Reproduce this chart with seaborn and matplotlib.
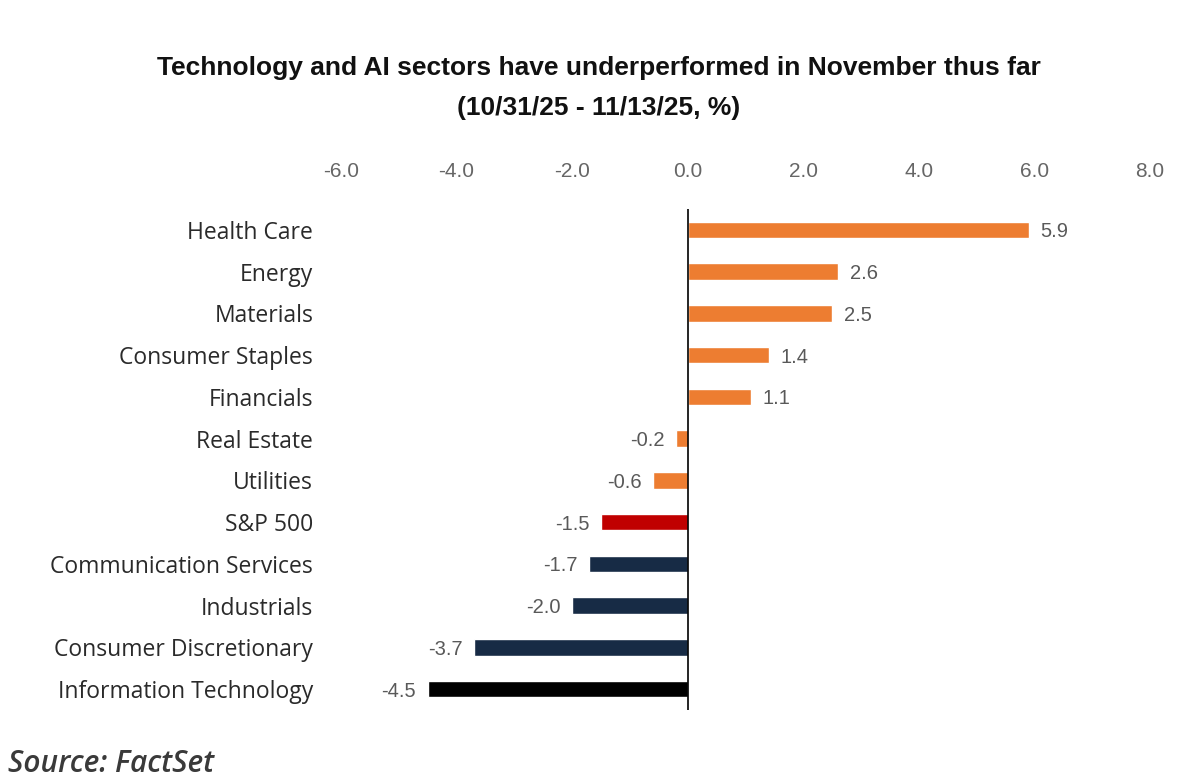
import matplotlib
matplotlib.use("Agg")
import matplotlib.pyplot as plt
import seaborn as sns
import pandas as pd

categories = ["Health Care", "Energy", "Materials", "Consumer Staples", "Financials",
              "Real Estate", "Utilities", "S&P 500", "Communication Services",
              "Industrials", "Consumer Discretionary", "Information Technology"]
values = [5.9, 2.6, 2.5, 1.4, 1.1, -0.2, -0.6, -1.5, -1.7, -2.0, -3.7, -4.5]
bar_colors = ["#ED7D31"] * 7 + ["#C00000"] + ["#172B45"] * 3 + ["#000000"]
tick_values = [-6, -4, -2, 0, 2, 4, 6, 8]
tick_labels = ["-6.0", "-4.0", "-2.0", "0.0", "2.0", "4.0", "6.0", "8.0"]
title_line1 = "Technology and AI sectors have underperformed in November thus far"
title_line2 = "(10/31/25 - 11/13/25, %)"
source = "Source: FactSet"

df = pd.DataFrame({"category": categories, "value": values})

sns.set_theme(style="white")
plt.rcParams['font.family'] = ['Liberation Sans', 'DejaVu Sans']

fig = plt.figure(figsize=(11.98, 7.82), dpi=100)
ax = fig.add_axes([341/1198, 1 - 710/782, (1150 - 341)/1198, (710 - 209)/782])

sns.barplot(data=df, x="value", y="category", hue="category",
            palette=dict(zip(categories, bar_colors)), orient="h",
            width=0.4, legend=False, ax=ax, saturation=1)

ax.set_xlim(-6, 8)
ax.set_xticks(tick_values)
ax.set_xticklabels(tick_labels)
ax.xaxis.tick_top()
ax.tick_params(axis="x", length=0, pad=20, labelsize=15, labelcolor="#666666")
ax.tick_params(axis="y", length=0, pad=20, labelsize=16.5, labelcolor="#2A2A2A")
for lab in ax.get_yticklabels():
    lab.set_family(['Open Sans', 'DejaVu Sans'])
ax.set_xlabel("")
ax.set_ylabel("")
for s in ax.spines.values():
    s.set_visible(False)
ax.axvline(0, color="#000000", lw=1.2, zorder=5)

for i, v in enumerate(values):
    off = 0.2 if v >= 0 else -0.2
    ax.text(v + off, i, f"{v:.1f}", va="center_baseline", ha="left" if v >= 0 else "right",
            fontsize=14.5, color="#595959")

fig.text(0.5, 1 - 68/782, title_line1, ha="center", va="center",
         fontsize=19, fontweight="bold", color="#111111")
fig.text(0.5, 1 - 108/782, title_line2, ha="center", va="center",
         fontsize=19, fontweight="bold", color="#111111")
fig.text(8/1198, 1 - 764/782, source, ha="left", va="center", fontsize=21.5,
         style="italic", fontweight="semibold", color="#3A3A3A",
         family=['Open Sans', 'DejaVu Sans'])

fig.savefig("out.png", dpi=100, facecolor="white")
